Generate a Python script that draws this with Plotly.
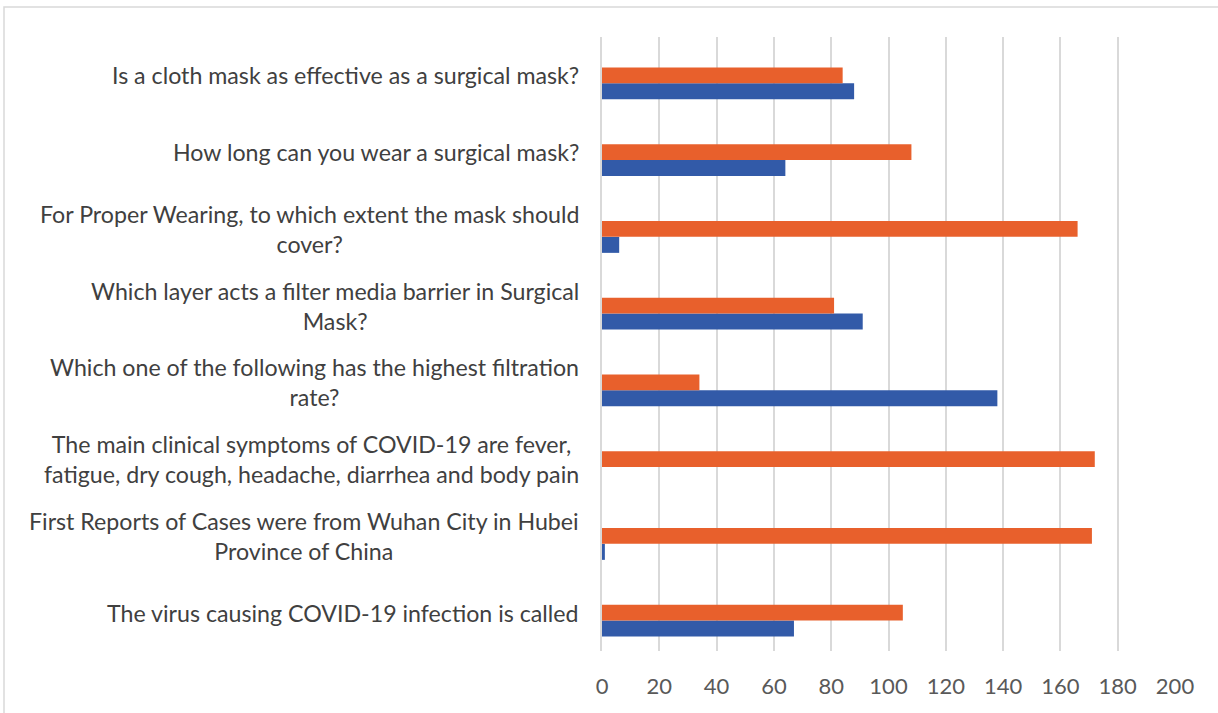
import plotly.graph_objects as go

# Categories listed bottom to top (as drawn on the y axis)
categories = [
    "The virus causing COVID-19 infection is called",
    "First Reports of Cases were from Wuhan City in Hubei<br>Province of China",
    "The main clinical symptoms of COVID-19 are fever,<br>fatigue, dry cough, headache, diarrhea and body pain",
    "Which one of the following has the highest filtration<br>rate?",
    "Which layer acts a filter media barrier in Surgical<br>Mask?",
    "For Proper Wearing, to which extent the mask should<br>cover?",
    "How long can you wear a surgical mask?",
    "Is a cloth mask as effective as a surgical mask?",
]
blue_values = [67, 1, 0, 138, 91, 6, 64, 88]
orange_values = [105, 171, 172, 34, 81, 166, 108, 84]
empty_values = [0, 0, 0, 0, 0, 0, 0, 0]
x_ticks = [0, 20, 40, 60, 80, 100, 120, 140, 160, 180, 200]

FONT = "Lato"
TEXT_COLOR = "#404040"
GRID = "#d9d9d9"

fig = go.Figure()
fig.add_trace(go.Bar(y=categories, x=blue_values, orientation="h",
                     marker=dict(color="#325AA8", line=dict(width=0)), showlegend=False))
fig.add_trace(go.Bar(y=categories, x=orange_values, orientation="h",
                     marker=dict(color="#E8602C", line=dict(width=0)), showlegend=False))
fig.add_trace(go.Bar(y=categories, x=empty_values, orientation="h",
                     marker=dict(color="#A5A5A5", line=dict(width=0)), showlegend=False))

for cat in categories:
    fig.add_annotation(x=0, xref="paper", y=cat, yref="y", text=cat,
                       xanchor="right", yanchor="middle", align="center",
                       xshift=-21, showarrow=False,
                       font=dict(family=FONT, size=23.2, color=TEXT_COLOR))

# outer chart border (page coords: left 4, top 7; plot area 602..1175 x 37..651)
pw, ph = 573.0, 614.0
fig.add_shape(type="rect", xref="paper", yref="paper",
              x0=(4 - 602) / pw, x1=(1240 - 602) / pw,
              y0=(651 - 740) / ph, y1=(651 - 7) / ph,
              line=dict(color=GRID, width=1.5), fillcolor="rgba(0,0,0,0)", layer="below")

fig.update_layout(
    width=1218, height=713,
    margin=dict(l=602, r=43, t=37, b=62),
    barmode="group", bargap=0.375,
    paper_bgcolor="white", plot_bgcolor="white",
    font=dict(family=FONT, color="#595959"),
)
fig.update_xaxes(range=[0, 200], tickvals=x_ticks, showgrid=True, gridcolor=GRID, gridwidth=1.5,
                 zeroline=False, showline=False,
                 ticks="outside", ticklen=16, tickcolor="rgba(0,0,0,0)",
                 tickfont=dict(family=FONT, size=22, color="#595959"))
fig.update_yaxes(categoryorder="array", categoryarray=categories, showticklabels=False,
                 showgrid=False, zeroline=False, showline=True, linecolor=GRID, linewidth=1.5)

fig.write_html("out.html", config={"displayModeBar": False},
               post_script="document.body.style.margin='0';")
